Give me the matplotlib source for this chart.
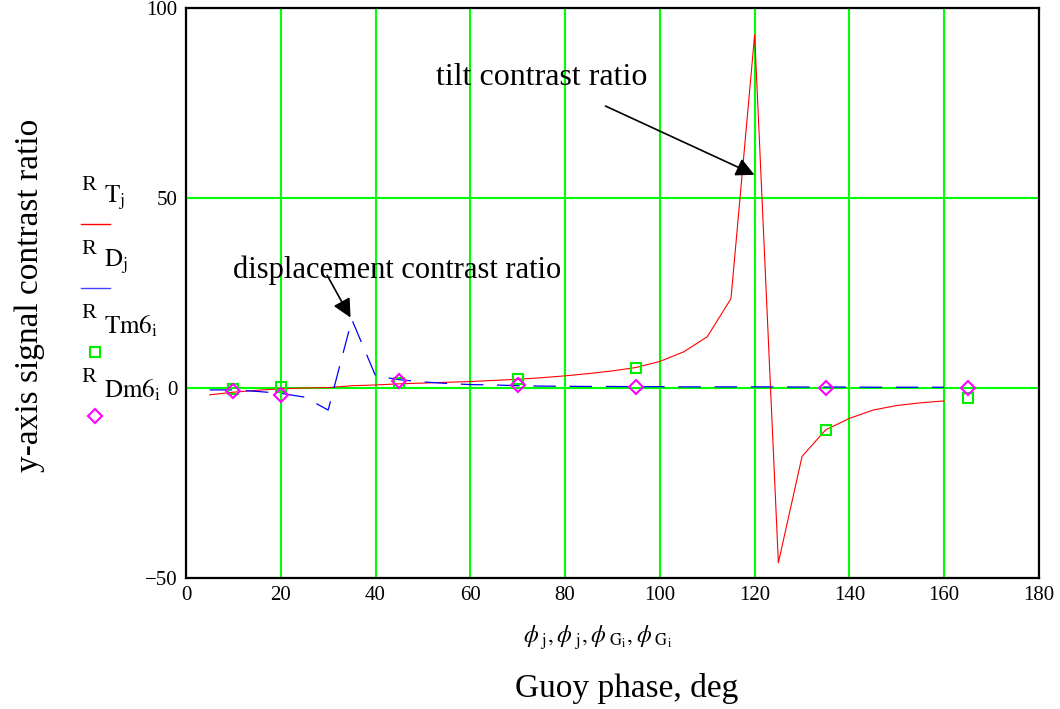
import numpy as np
import matplotlib
matplotlib.use("Agg")
import matplotlib.pyplot as plt
from matplotlib.lines import Line2D

plt.rcParams['font.family'] = ['Liberation Serif', 'DejaVu Serif']
plt.rcParams['mathtext.fontset'] = 'stix'

# Guoy phase (deg) for the continuous curves
phi_j = [5, 10, 15, 20, 25, 30, 35, 40, 45, 50, 55, 60, 65, 70, 75, 80,
         85, 90, 95, 100, 105, 110, 115, 120, 125, 130, 135, 140, 145, 150, 155, 160]

# tilt contrast ratio R_T
R_T = [-1.8, -1.1, -0.6, -0.2, 0.0, 0.1, 0.6, 0.8, 1.1, 1.3, 1.5, 1.7, 2.0, 2.3, 2.7, 3.2,
       3.8, 4.5, 5.4, 7.0, 9.5, 13.5, 23.5, 93.0, -46.0, -18.0, -11.0, -8.0, -5.8, -4.6, -3.9, -3.4]

# displacement contrast ratio R_D
R_D = [-0.5, -0.5, -0.9, -1.4, -2.4, -5.8, 18.0, 3.2, 2.2, 1.6, 1.2, 0.9, 0.8, 0.6, 0.5, 0.45,
       0.4, 0.4, 0.35, 0.35, 0.3, 0.3, 0.3, 0.3, 0.3, 0.25, 0.25, 0.25, 0.2, 0.2, 0.2, 0.2]

# measured points
phi_G = [10, 20, 45, 70, 95, 135, 165]
R_Tm6 = [-0.3, 0.3, 1.3, 2.4, 5.3, -11.0, -2.7]
R_Dm6 = [-0.8, -1.8, 1.9, 0.8, 0.3, 0.0, 0.1]

xticks = [0, 20, 40, 60, 80, 100, 120, 140, 160, 180]
yticks = [-50, 0, 50, 100]

fig = plt.figure(figsize=(10.6, 7.09), dpi=100)
ax = fig.add_axes([186/1060, 1 - 578/709, (1039-186)/1060, (578-8)/709])

ax.plot(phi_j, R_T, color='red', lw=0.8, zorder=3)
ax.plot(phi_j, R_D, color='blue', lw=0.9, dashes=(18, 11), zorder=3)
ax.plot(phi_G, R_Tm6, ls='none', marker='s', ms=6.5, mfc='none', mec='#00ee00', mew=1.5, zorder=4)
ax.plot(phi_G, R_Dm6, ls='none', marker='D', ms=7, mfc='none', mec='magenta', mew=1.5, zorder=5)

ax.set_xlim(0, 180)
ax.set_ylim(-50, 100)
ax.set_xticks(xticks)
ax.set_yticks(yticks)
ax.set_yticklabels(['\u221250', '0', '50', '100'])
ax.grid(True, color='#00ff00', lw=1.5)
ax.set_axisbelow(True)
ax.tick_params(length=0, labelsize=15, pad=6)
for s in ax.spines.values():
    s.set_color('black')
    s.set_linewidth(1.6)

ax.annotate('', xy=(120.5, 55.8), xytext=(88.0, 74.5),
            arrowprops=dict(arrowstyle='-|>', color='black', lw=1.2, mutation_scale=28))
ax.text(75.1, 81.8, 'tilt contrast ratio', fontsize=23, ha='center', va='center')
ax.annotate('', xy=(35.0, 17.9), xytext=(29.5, 30.3),
            arrowprops=dict(arrowstyle='-|>', color='black', lw=1.2, mutation_scale=28))
ax.text(44.5, 31.1, 'displacement contrast ratio', fontsize=22, ha='center', va='center')

fig.text(30/1060, 1 - 295/709, 'y-axis signal contrast ratio', rotation=90,
         fontsize=24, ha='center', va='center')
fig.text(627/1060, 1 - 688/709, 'Guoy phase, deg', fontsize=24, ha='center', va='center')
fig.text(598/1060, 1 - 638/709,
         r'$\phi_{\ \mathrm{j}},\phi_{\ \mathrm{j}},\phi_{\ \mathrm{G_i}},\phi_{\ \mathrm{G_i}}$',
         fontsize=17, ha='center', va='center')

# legend at left, outside the axes
legend_items = [('T', 'j', dict(color='red', lw=1)),
                ('D', 'j', dict(color='#4444ff', lw=1)),
                ('Tm6', 'i', dict(ls='none', marker='s', ms=7, mfc='none', mec='#00ee00', mew=1.5)),
                ('Dm6', 'i', dict(ls='none', marker='D', ms=7, mfc='none', mec='magenta', mew=1.5))]
for k, (name, idx, style) in enumerate(legend_items):
    top = 186 + k * 64
    fig.text(81/1060, 1 - top/709, 'R', fontsize=16, ha='left', va='center')
    fig.text(104/1060, 1 - (top + 12)/709, r'$\mathrm{%s}_{\mathrm{%s}}$' % (name, idx),
             fontsize=18, ha='left', va='center')
    ly = 1 - (top + 38)/709
    if style.get('ls') == 'none':
        fig.add_artist(Line2D([95/1060], [ly], transform=fig.transFigure, **style))
    else:
        fig.add_artist(Line2D([81/1060, 110/1060], [ly, ly], transform=fig.transFigure, **style))

fig.savefig('out.png', dpi=100)
